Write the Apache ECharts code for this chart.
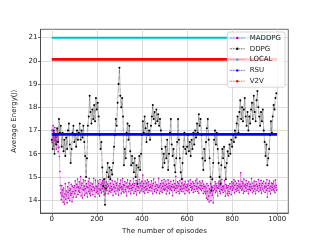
<!DOCTYPE html>
<html><head><meta charset="utf-8">
<script src="https://cdn.jsdelivr.net/npm/echarts@6/dist/echarts.min.js"></script>
<style>html,body{margin:0;padding:0;background:#fff}#c{width:320px;height:240px}</style>
</head><body><div id="c"></div>
<script>
const MADDPG_STEP = 2;
const DDPG_STEP = 4;
const xTicks = [0, 200, 400, 600, 800, 1000];
const yTicks = [14, 15, 16, 17, 18, 19, 20, 21];
const seriesNames = ['MADDPG', 'DDPG', 'LOCAL', 'RSU', 'V2V'];
const constEpisodes = [0, 999];
const localEnergy = [21.0, 21.0];
const rsuEnergy = [16.83, 16.83];
const v2vEnergy = [20.06, 20.06];
const maddpgEnergy = [
17.02,16.48,16.83,17.21,16.32,16.91,16.57,17.13,16.42,16.78,16.19,16.71,17.04,16.52,16.08,16.83,16.27,15.88,15.23,14.62,
14.31,14.02,14.63,14.18,14.44,13.91,14.52,14.13,13.82,14.27,
14.71,14.04,14.39,14.22,13.88,14.58,14.33,14.08,14.76,14.41,
13.97,14.49,14.21,14.68,14.28,13.93,14.61,14.37,14.11,14.53,
14.62,14.27,14.83,14.41,14.12,14.68,14.53,14.91,14.24,14.57,
14.38,14.79,14.33,14.52,15.02,14.18,14.64,14.73,14.09,14.47,
14.88,14.42,14.61,14.21,14.84,14.49,14.29,14.71,14.58,14.13,
14.54,14.81,14.36,14.93,14.27,14.63,14.19,14.74,14.46,14.39,
14.69,14.23,14.57,14.94,14.41,14.52,14.14,14.86,14.61,14.32,
14.58,14.37,14.82,14.26,14.72,14.48,14.17,14.89,14.43,14.66,
14.31,14.74,14.49,14.83,14.36,14.62,14.22,14.54,14.92,14.28,
14.63,14.78,14.41,14.56,14.69,14.27,14.61,15.04,14.38,14.51,
14.72,14.34,14.59,14.43,14.84,14.47,14.19,14.68,14.57,14.36,
14.81,14.52,14.26,14.73,14.64,14.39,14.91,14.48,14.21,14.62,
14.42,14.71,14.53,14.86,14.29,14.58,14.47,14.93,14.37,14.67,
14.32,14.63,14.79,14.46,14.38,14.74,14.18,14.57,14.88,14.52,
14.61,14.36,14.72,14.49,14.83,14.27,14.64,14.51,14.42,14.69,
14.54,14.92,14.28,14.63,14.71,14.37,14.48,14.84,14.22,14.59,
14.68,14.41,14.57,14.52,14.89,14.31,14.73,14.62,14.39,14.81,
14.47,14.61,15.08,14.36,14.72,14.53,14.29,14.82,14.58,14.43,
14.74,14.48,14.87,14.33,14.62,14.79,14.41,14.54,14.68,14.57,
14.39,14.83,14.51,14.64,14.27,14.72,14.91,14.46,14.37,14.59,
14.78,14.49,14.31,14.67,14.61,14.42,14.53,14.94,14.56,14.28,
14.62,14.71,14.38,14.52,14.84,14.33,14.59,14.73,14.47,14.89,
14.43,14.64,14.48,14.82,14.26,14.69,14.57,14.39,14.87,14.51,
14.73,14.29,14.62,14.47,14.81,14.41,14.58,14.68,14.19,14.53,
14.84,14.57,14.42,14.71,14.49,15.03,14.32,14.63,14.52,14.79,
14.37,14.72,14.61,14.28,14.83,14.46,14.59,14.38,14.74,14.48,
14.92,14.36,14.64,14.51,14.69,14.27,14.81,14.58,14.41,14.53,
14.68,14.61,14.39,14.82,14.47,14.31,14.63,14.88,14.54,14.71,
14.42,14.57,14.49,14.79,14.33,14.72,14.62,14.46,14.38,14.84,
14.59,14.48,14.91,14.37,14.73,14.56,14.29,14.52,14.81,14.64,
14.47,14.74,14.41,14.62,14.83,14.51,14.28,14.69,14.58,14.36,
14.61,14.27,14.52,14.08,14.71,14.38,14.02,14.63,14.17,13.92,
14.49,14.31,14.72,13.97,14.43,14.58,14.21,14.54,13.88,14.41,
14.63,14.48,14.79,14.32,14.71,14.39,14.62,14.53,14.18,14.74,
14.51,14.82,14.37,14.64,14.28,14.73,14.46,14.89,14.42,14.59,
14.33,14.61,14.48,14.84,14.39,14.17,14.68,14.52,14.63,14.27,
14.54,14.19,14.62,14.37,14.29,14.71,14.48,14.57,14.23,14.79,
14.61,14.43,14.74,14.52,14.88,14.31,14.64,14.81,14.47,14.38,
14.72,14.49,14.63,14.41,14.83,14.57,14.32,14.69,14.51,15.18,
14.59,14.42,14.81,14.48,14.73,14.29,14.91,14.61,14.37,14.68,
14.52,14.84,14.39,14.62,14.71,14.47,14.28,14.79,14.58,14.46,
14.69,14.41,14.57,14.93,14.49,14.32,14.74,14.61,14.38,14.82,
14.48,14.63,14.27,14.79,14.68,14.42,14.59,14.51,14.89,14.36,
14.62,14.71,14.43,14.53,14.84,14.29,14.64,14.72,14.47,14.39,
14.81,14.52,14.61,14.33,14.73,14.57,14.41,14.88,14.12,14.49,
14.63,14.72,14.38,14.83,14.51,14.27,14.59,14.74,14.42,14.54,
14.71,14.47,14.82,14.39,14.61,14.32,14.87,14.53,14.64,14.43
];
const ddpgEnergy = [
16.6,16.2,17.0,16.0,16.8,16.4,17.1,16.5,17.5,16.9,
17.2,16.3,16.9,16.1,16.6,15.9,16.7,16.2,17.0,17.3,
16.4,15.6,16.2,16.9,17.2,16.5,16.8,16.3,17.0,16.6,
16.9,17.3,16.6,17.0,16.7,17.2,16.5,15.9,15.0,15.8,
17.2,17.6,18.5,17.8,17.3,17.9,17.5,18.1,17.4,18.4,
17.9,18.2,17.6,16.8,16.2,16.5,15.4,14.6,14.9,13.8,
14.5,15.2,15.6,15.0,15.4,14.9,15.3,15.1,15.6,16.3,
16.8,17.5,17.2,18.2,19.0,19.7,18.5,18.0,18.4,17.6,
15.5,16.2,15.8,16.9,17.3,16.6,17.2,16.1,15.5,15.9,
15.6,15.2,15.8,15.0,15.5,14.7,15.4,15.9,15.3,16.0,
16.8,17.4,16.9,17.6,17.1,16.5,17.3,16.8,17.0,16.6,
17.2,17.6,18.1,17.5,17.8,17.3,17.9,17.4,17.7,17.2,
17.5,17.0,16.2,15.4,16.0,15.6,16.3,15.8,16.6,15.3,
16.0,16.9,17.5,16.4,15.9,16.2,15.5,15.2,15.8,16.5,
17.5,16.6,15.8,15.2,14.9,15.6,16.3,16.9,16.2,16.0,
16.3,16.8,16.1,16.5,15.9,16.6,16.2,16.9,16.4,17.0,
16.7,17.3,16.9,17.7,17.2,17.5,16.8,15.8,15.3,16.2,
15.7,16.5,17.1,17.5,16.6,15.8,15.0,14.4,14.9,15.6,
16.6,17.0,16.4,16.9,16.2,15.6,15.0,14.7,15.5,16.2,
15.8,16.3,15.4,14.9,15.6,16.1,15.9,16.4,16.0,16.6,
16.3,16.8,16.5,17.0,16.7,17.3,17.6,16.9,17.8,18.3,
17.5,18.0,17.4,17.9,18.4,17.6,17.2,17.8,17.0,17.6,
17.3,17.9,18.2,17.5,18.5,17.8,17.4,18.3,18.7,18.0,
17.6,17.2,17.8,17.4,17.9,17.0,16.5,15.9,16.4,15.5,
15.8,16.2,16.8,17.4,16.9,17.6,18.1,17.9,18.4,18.6
];
const colors = ['#bf00bf', '#000000', '#00bfbf', '#0000ff', '#ff0000'];

function pairs(xs, ys) { return ys.map((v, i) => [xs[i], v]); }
function stepped(ys, step) { return ys.map((v, i) => [i * step, v]); }

const FONT = 'DejaVu Sans';
function noisy(name, data, color, size) {
  return {
    name, type: 'line', data, symbol: 'circle', symbolSize: size,
    itemStyle: { color }, lineStyle: { color, width: 0.6, type: 'dotted' },
    animation: false, z: 2
  };
}
function flat(name, data, color, width) {
  return {
    name, type: 'line', data, symbol: 'circle', symbolSize: 2, showSymbol: false,
    itemStyle: { color }, lineStyle: { color, width, type: 'solid' },
    animation: false, z: 3
  };
}

const chart = echarts.init(document.getElementById('c'), null, { renderer: 'canvas' });
chart.setOption({
  animation: false,
  textStyle: { fontFamily: FONT },
  grid: { left: 40.5, right: 31.7, top: 29.3, bottom: 26.7, show: true, borderColor: '#444', borderWidth: 0.8, containLabel: false },
  xAxis: {
    type: 'value', min: -50, max: 1049,
    name: 'The number of episodes', nameLocation: 'middle', nameGap: 14,
    nameTextStyle: { fontSize: 7, color: '#222', fontFamily: FONT },
    axisLine: { show: true, onZero: false, lineStyle: { color: '#444', width: 0.8 } },
    axisTick: { show: true, length: 2.5, customValues: xTicks, lineStyle: { color: '#444', width: 0.8 } },
    axisLabel: { customValues: xTicks, fontSize: 7, color: '#222', margin: 3, fontFamily: FONT, formatter: v => String(v) },
    splitLine: { show: true, lineStyle: { color: '#d3d3d3', width: 0.8 } }
  },
  yAxis: {
    type: 'value', min: 13.44, max: 21.36,
    name: 'Average Energy(J)', nameLocation: 'middle', nameGap: 17,
    nameTextStyle: { fontSize: 7, color: '#222', fontFamily: FONT },
    axisLine: { show: true, onZero: false, lineStyle: { color: '#444', width: 0.8 } },
    axisTick: { show: true, length: 2.5, customValues: yTicks, lineStyle: { color: '#444', width: 0.8 } },
    axisLabel: { customValues: yTicks, fontSize: 7, color: '#222', margin: 3, fontFamily: FONT, formatter: v => String(v) },
    splitLine: { show: true, lineStyle: { color: '#d3d3d3', width: 0.8 } }
  },
  legend: {
    orient: 'vertical', right: 35, top: 32,
    data: seriesNames,
    backgroundColor: 'rgba(255,255,255,0.8)', borderColor: '#cccccc', borderWidth: 0.8, borderRadius: 2,
    padding: [2, 4, 2, 2], itemGap: 2.8, itemWidth: 15, itemHeight: 3,
    lineStyle: { width: 0.8, type: 'dotted' },
    textStyle: { fontSize: 7, color: '#222', lineHeight: 8, fontFamily: FONT, padding: [0, 0, 0, 0] }
  },
  series: [
    noisy(seriesNames[0], stepped(maddpgEnergy, MADDPG_STEP), colors[0], 1.6),
    noisy(seriesNames[1], stepped(ddpgEnergy, DDPG_STEP), colors[1], 2),
    flat(seriesNames[2], pairs(constEpisodes, localEnergy), colors[2], 2),
    flat(seriesNames[3], pairs(constEpisodes, rsuEnergy), colors[3], 2.7),
    flat(seriesNames[4], pairs(constEpisodes, v2vEnergy), colors[4], 2.7)
  ]
});
</script></body></html>
